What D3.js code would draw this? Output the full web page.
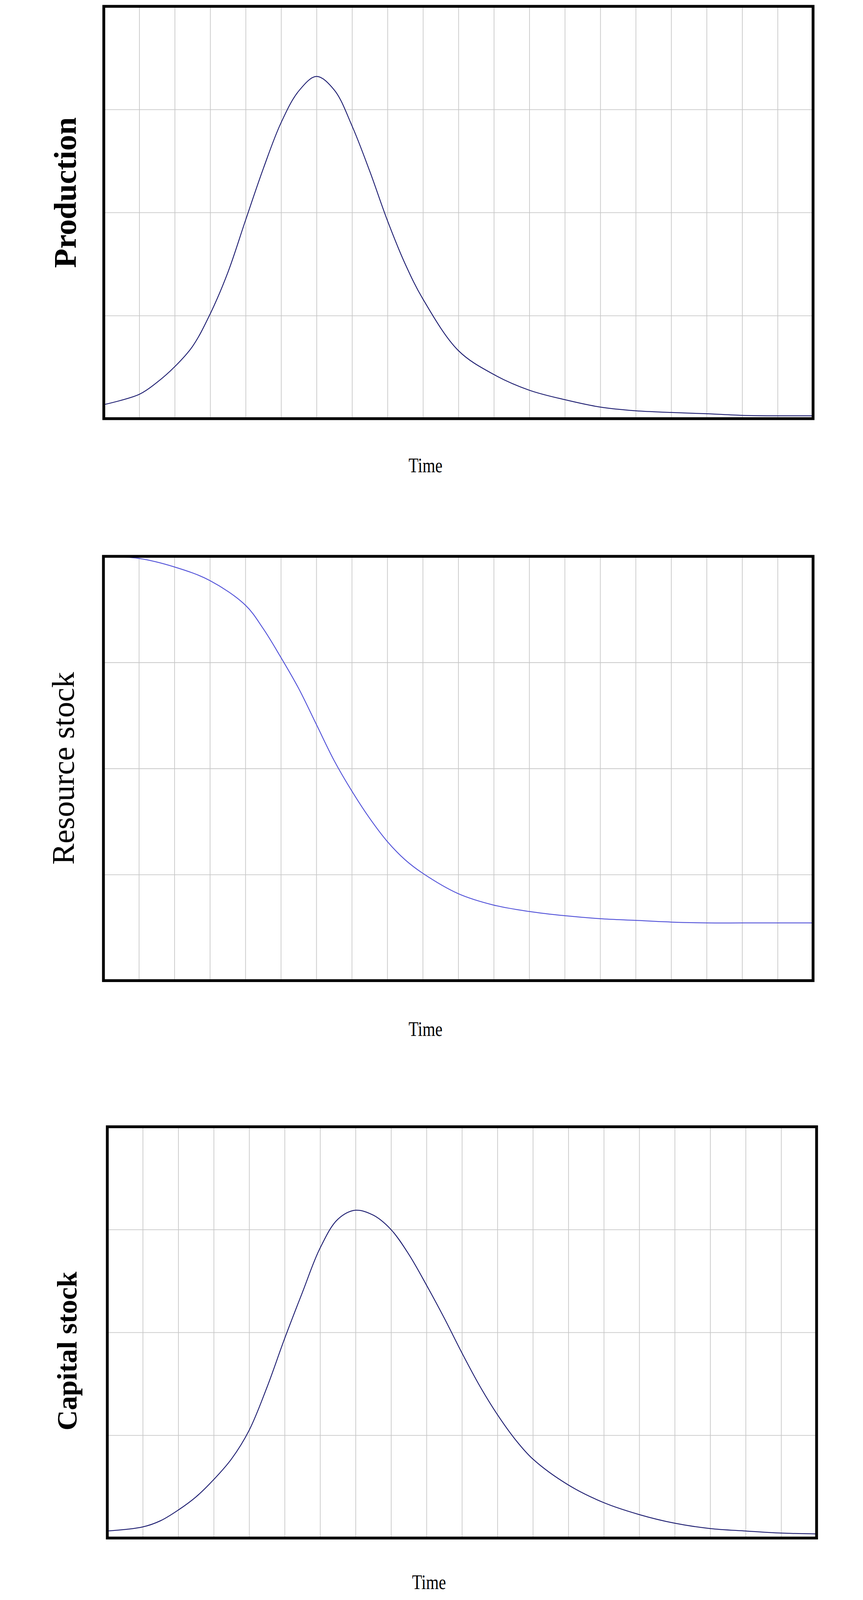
<!DOCTYPE html>
<html><head><meta charset="utf-8">
<script src="https://cdn.jsdelivr.net/npm/d3@7"></script>
<style>html,body{margin:0;padding:0;background:#fff;overflow:hidden}svg{display:block}</style>
</head><body>
<script>
// Time positions in grid divisions (0..20)
const prodT = [0,1,1.5,2,2.5,3,3.5,4,4.5,5,5.5,6,6.5,7,7.5,8,8.5,9,10,11,12,13,14,15,16,17,18,19,20];
const prodV = [0.034,0.059,0.088,0.126,0.175,0.254,0.355,0.482,0.607,0.718,0.795,0.83,0.797,0.71,0.60,0.48,0.375,0.29,0.165,0.107,0.069,0.046,0.028,0.019,0.015,0.012,0.008,0.007,0.007];
const resT = [0,1,2,3,4,4.5,5,5.5,6,6.5,7,7.5,8,8.5,9,10,11,12,13,14,15,16,17,18,19,20];
const resV = [1.0,0.995,0.975,0.943,0.885,0.83,0.762,0.689,0.604,0.519,0.447,0.383,0.328,0.285,0.253,0.205,0.178,0.163,0.153,0.146,0.142,0.138,0.136,0.136,0.136,0.136];
const capT = [0,1,1.5,2,2.5,3,3.5,4,4.5,5,5.5,6,6.5,7,7.5,8,8.5,9,9.5,10,10.5,11,11.5,12,13,14,15,16,17,18,19,20];
const capV = [0.017,0.027,0.042,0.068,0.1,0.142,0.192,0.262,0.366,0.485,0.597,0.705,0.775,0.797,0.785,0.75,0.69,0.615,0.535,0.45,0.37,0.30,0.24,0.192,0.129,0.086,0.057,0.036,0.023,0.017,0.012,0.010];
const xLabel = "Time";

const panels = [
  {label:"Production", bold:true, fs:90, t:prodT, v:prodV, color:"#1c1c70", box:[174,18,2189,1189], ly:547, lx:74, ty:1328, tx:1088},
  {label:"Resource stock", bold:false, fs:90, t:resT, v:resV, color:"#5050d8", box:[173,1580,2189,2785], ly:2182, lx:68, ty:2929, tx:1088},
  {label:"Capital stock", bold:true, fs:80, t:capT, v:capV, color:"#1c1c70", box:[184,3200,2199,4368], ly:3837, lx:78, ty:4500, tx:1098}
];

const svg = d3.select("body").append("svg")
  .attr("viewBox","0 0 2210 4544")
  .style("width","100vw").style("height","100vh");

panels.forEach(p=>{
  const [x0,y0,x1,y1] = p.box;
  const x = d3.scaleLinear().domain([0,20]).range([x0,x1]);
  const y = d3.scaleLinear().domain([0,1]).range([y1,y0]);
  const g = svg.append("g");
  g.append("g").attr("transform",`translate(0,${y1})`)
    .call(d3.axisBottom(x).tickValues(d3.range(1,20)).tickSize(-(y1-y0)).tickFormat(""))
    .call(s=>{s.select(".domain").remove(); s.selectAll("line").attr("stroke","#c8c8c8").attr("stroke-width",2);});
  g.append("g").attr("transform",`translate(${x0},0)`)
    .call(d3.axisLeft(y).tickValues([0.25,0.5,0.75]).tickSize(-(x1-x0)).tickFormat(""))
    .call(s=>{s.select(".domain").remove(); s.selectAll("line").attr("stroke","#c8c8c8").attr("stroke-width",2);});
  g.append("path").datum(p.t.map((t,i)=>[t,p.v[i]]))
    .attr("d", d3.line().x(d=>x(d[0])).y(d=>y(d[1])).curve(d3.curveCatmullRom.alpha(0.5)))
    .attr("fill","none").attr("stroke",p.color).attr("stroke-width",2.5);
  g.append("rect").attr("x",x0).attr("y",y0).attr("width",x1-x0).attr("height",y1-y0)
    .attr("fill","none").attr("stroke","#000").attr("stroke-width",8);
  g.append("text").attr("transform",`translate(${p.lx},${p.ly}) rotate(-90)`)
    .attr("text-anchor","middle").attr("dominant-baseline","middle")
    .attr("font-family","Liberation Serif, serif").attr("font-size",p.fs)
    .attr("font-weight",p.bold?"bold":"normal").text(p.label);
  g.append("text").attr("x",p.tx).attr("y",p.ty).attr("text-anchor","middle").attr("dominant-baseline","middle")
    .attr("font-family","Liberation Serif, serif").attr("font-size",58)
    .attr("transform",`translate(${p.tx},${p.ty}) scale(0.8,1) translate(${-p.tx},${-p.ty})`)
    .text(xLabel);
});
</script>
</body></html>
